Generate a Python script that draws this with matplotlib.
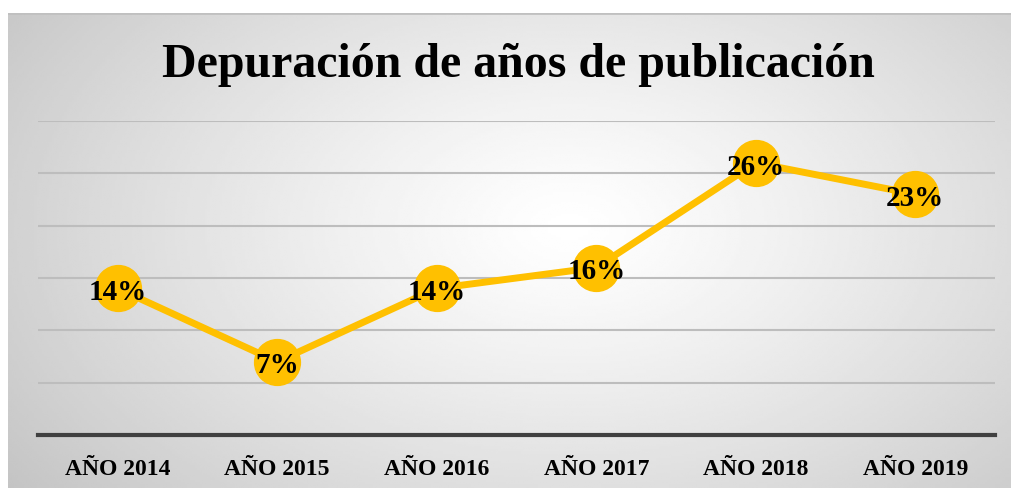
import matplotlib.pyplot as plt
import numpy as np

# datos del gráfico
anios = ['AÑO 2014', 'AÑO 2015', 'AÑO 2016', 'AÑO 2017', 'AÑO 2018', 'AÑO 2019']
porcentajes = [14, 7, 14, 16, 26, 23]
etiquetas = ['14%', '7%', '14%', '16%', '26%', '23%']

W, H = 1011, 489
fig = plt.figure(figsize=(W / 100, H / 100), dpi=100)
fig.patch.set_facecolor('white')

# fondo con degradado radial (blanco al centro, gris en los bordes)
bg = fig.add_axes([8 / W, 0, 1 - 8 / W, 1 - 14 / H])
bg.set_axis_off()
gx, gy = np.meshgrid(np.linspace(0, 1, 400), np.linspace(0, 1, 200))
cx, cy = 0.56, 0.45
r = np.sqrt(((gx - cx) / 0.72) ** 2 + ((gy - cy) / 0.95) ** 2)
r = np.clip(r, 0, 1)
val = 1.0 - 0.24 * r ** 1.2
bg.imshow(val, cmap='gray', vmin=0, vmax=1, extent=[0, 1, 0, 1],
          origin='upper', aspect='auto', interpolation='bilinear')
bg.set_xlim(0, 1)
bg.set_ylim(0, 1)
bg.axhline(1, color='#c0c0c0', lw=2)

# área de trazado
left, right = 38 / W, 995 / W
bottom, top = 1 - 436 / H, 1 - 122 / H
ax = fig.add_axes([left, bottom, right - left, top - bottom])
ax.patch.set_alpha(0)

x = np.arange(len(anios))
ax.plot(x, porcentajes, color='#FFC000', lw=5, marker='o', ms=33,
        markerfacecolor='#FFC000', markeredgecolor='#FFC000',
        solid_capstyle='round', zorder=3, clip_on=False)

for xi, yi, t in zip(x, porcentajes, etiquetas):
    ax.text(xi, yi - 0.3, t, ha='center', va='center', fontsize=21,
            fontweight='bold', family='Liberation Serif', zorder=4)

ax.set_xlim(-0.5, len(anios) - 0.5)
ax.set_ylim(0, 30)
ax.set_yticks(np.arange(0, 31, 5))
ax.yaxis.grid(True, color='#bdbdbd', lw=1.5)
ax.set_axisbelow(True)
ax.tick_params(axis='y', left=False, labelleft=False)
ax.tick_params(axis='x', bottom=False, pad=13)
ax.set_xticks(x)
ax.set_xticklabels(anios, fontsize=17, fontweight='bold',
                   family='Liberation Serif')
for s in ['top', 'right', 'left']:
    ax.spines[s].set_visible(False)
ax.spines['bottom'].set_color('#404040')
ax.spines['bottom'].set_linewidth(3)

fig.text(0.513, 1 - 65 / H, 'Depuración de años de publicación',
         ha='center', va='center', fontsize=34.5, fontweight='bold',
         family='Liberation Serif')

fig.savefig('out.png', dpi=100)
